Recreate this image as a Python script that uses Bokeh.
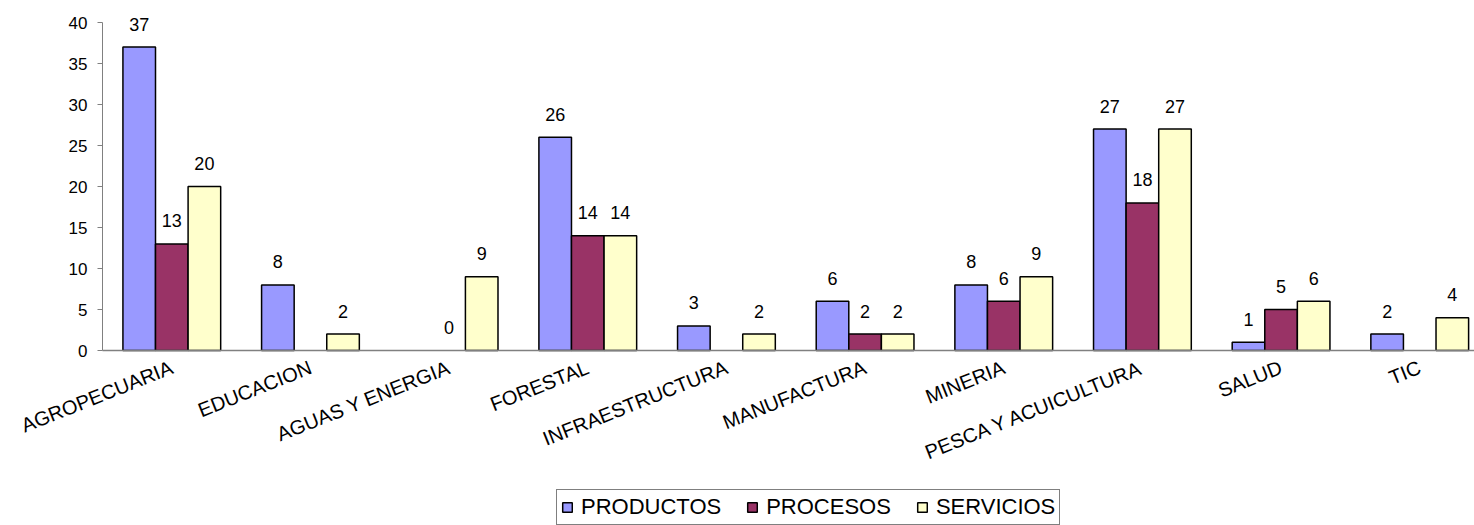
from bokeh.plotting import figure
from bokeh.models import ColumnDataSource, Range1d, Legend, LegendItem
from bokeh.core.properties import value
from bokeh.embed import file_html
from bokeh.resources import INLINE

categories = ["AGROPECUARIA", "EDUCACION", "AGUAS Y ENERGIA", "FORESTAL",
              "INFRAESTRUCTURA", "MANUFACTURA", "MINERIA",
              "PESCA Y ACUICULTURA", "SALUD", "TIC"]
productos = [37, 8, None, 26, 3, 6, 8, 27, 1, 2]
procesos = [13, None, 0, 14, None, 2, 6, 18, 5, None]
servicios = [20, 2, 9, 14, 2, 2, 9, 27, 6, 4]
series_names = ["PRODUCTOS", "PROCESOS", "SERVICIOS"]
series_values = [productos, procesos, servicios]
colors = ["#9999FF", "#993366", "#FFFFCC"]
y_ticks = [0, 5, 10, 15, 20, 25, 30, 35, 40]

FONT = "Liberation Sans"
BAR_W = 0.235
offsets = [-BAR_W, 0.0, BAR_W]
centers = [i + 0.5 for i in range(len(categories))]
X_END = 9.895

# the frame covers the whole canvas; both axes are pinned at 0
p = figure(width=1474, height=525, output_backend="svg", toolbar_location=None,
           x_range=Range1d(-0.7354, X_END), y_range=Range1d(-21.34, 42.683),
           min_border_left=0, min_border_right=0, min_border_top=0,
           min_border_bottom=0, tools="")
p.outline_line_color = None
p.xgrid.visible = False
p.ygrid.visible = False
p.background_fill_color = "white"
p.border_fill_color = "white"

items = []
for name, vals, col, off in zip(series_names, series_values, colors, offsets):
    bx = [c + off for c, v in zip(centers, vals) if v is not None and v > 0]
    by = [v for v in vals if v is not None and v > 0]
    src = ColumnDataSource(dict(x=bx, top=by))
    r = p.vbar(x="x", top="top", bottom=0, width=BAR_W, source=src,
               fill_color=col, line_color="black", line_width=1.5)
    items.append(LegendItem(label=name, renderers=[r]))
    lx = [c + off for c, v in zip(centers, vals) if v is not None]
    ly = [v for v in vals if v is not None]
    lt = [str(v) for v in vals if v is not None]
    lsrc = ColumnDataSource(dict(x=lx, y=ly, t=lt))
    p.text(x="x", y="y", text="t", source=lsrc, text_align="center",
           text_baseline="alphabetic", y_offset=-23,
           text_font=value(FONT), text_font_size="18px", text_color="black")

# y axis
p.yaxis.fixed_location = 0
p.yaxis.ticker = y_ticks
p.yaxis.bounds = (0, 40)
p.yaxis.axis_line_color = "#808080"
p.yaxis.major_tick_line_color = "#808080"
p.yaxis.major_tick_out = 5
p.yaxis.major_tick_in = 0
p.yaxis.minor_tick_line_color = None
p.yaxis.major_label_text_font = FONT
p.yaxis.major_label_text_font_size = "17px"
p.yaxis.major_label_text_color = "black"
p.yaxis.major_label_standoff = 10

# x axis (drawn at value 0)
p.xaxis.fixed_location = 0
p.xaxis.ticker = centers
p.xaxis.bounds = (0, X_END)
p.xaxis.major_label_overrides = {c: n for c, n in zip(centers, categories)}
p.xaxis.axis_line_color = "#808080"
p.xaxis.axis_line_width = 1.5
p.xaxis.major_tick_line_color = None
p.xaxis.minor_tick_line_color = None
p.xaxis.major_label_orientation = 0.38
p.xaxis.major_label_text_font = FONT
p.xaxis.major_label_text_font_size = "20px"
p.xaxis.major_label_text_color = "black"
p.xaxis.major_label_standoff = 10

legend = Legend(items=items, location=(556, 0), orientation="horizontal",
                label_text_font=FONT, label_text_font_size="22px",
                label_text_color="black", glyph_width=12, glyph_height=12,
                label_standoff=8, spacing=25, padding=4, margin=0,
                border_line_color="black", border_line_width=1,
                background_fill_color="white", background_fill_alpha=1.0)
p.add_layout(legend)

open("out.html", "w").write(file_html(p, INLINE))
